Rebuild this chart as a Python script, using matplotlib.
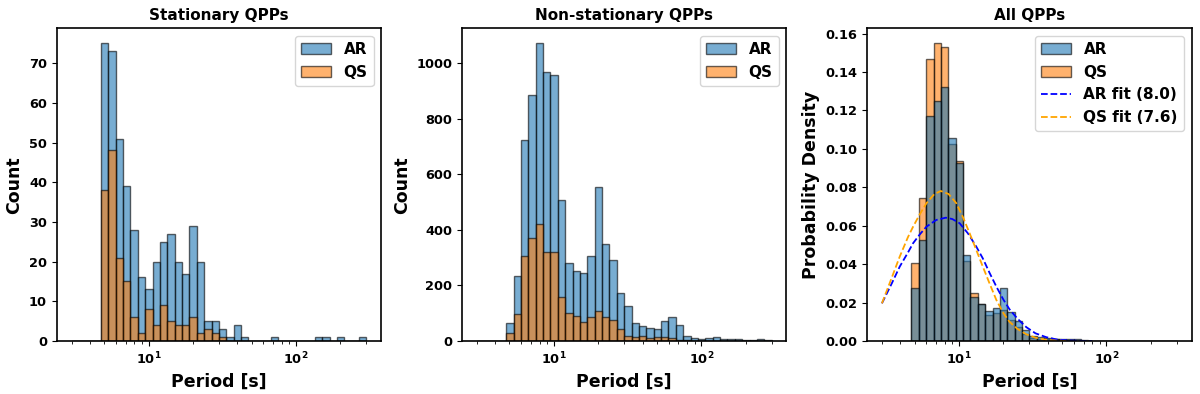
import matplotlib
matplotlib.use('Agg')
import matplotlib.pyplot as plt
import numpy as np

plt.rcParams['font.family'] = ['DejaVu Sans']
plt.rcParams['font.weight'] = 'bold'
plt.rcParams['axes.labelweight'] = 'bold'
plt.rcParams['axes.titleweight'] = 'bold'
plt.rcParams['mathtext.default'] = 'bf'

# log bins 3 s .. 300 s, 40 bins
bin_edges = np.logspace(np.log10(3), np.log10(300), 41)
bin_centers = np.sqrt(bin_edges[:-1] * bin_edges[1:])

# stationary QPPs, counts per bin
stat_ar = [0, 0, 0, 0,
           75, 73, 51, 39, 28, 16, 13, 20, 25, 27, 20, 17, 29, 20, 5, 5,
           3, 1, 4, 1, 0, 0, 0, 1, 0, 0, 0, 0, 0, 1, 1, 0, 1, 0, 0, 1]
stat_qs = [0, 0, 0, 0,
           38, 48, 21, 15, 6, 2, 8, 4, 9, 5, 4, 4, 6, 2, 3, 2,
           1, 0, 0, 0, 0, 0, 0, 0, 0, 0, 0, 0, 0, 0, 0, 0, 0, 0, 0, 0]

# non-stationary QPPs, counts per bin
nons_ar = [0, 0, 0, 0,
           66, 234, 724, 884, 1072, 968, 958, 508, 280, 253, 244, 306, 553, 348, 292, 172,
           125, 64, 54, 46, 42, 73, 88, 59, 18, 10, 7, 10, 13, 6, 6, 7, 2, 2, 6, 2]
nons_qs = [0, 0, 0, 0,
           30, 96, 306, 370, 421, 319, 322, 160, 102, 90, 70, 85, 109, 85, 76, 43,
           19, 13, 18, 10, 13, 13, 10, 4, 3, 1, 1, 0, 0, 0, 0, 0, 0, 0, 0, 0]

# all QPPs, probability density per bin
all_ar = [0, 0, 0, 0,
          0.0274, 0.0526, 0.117, 0.125, 0.132, 0.1056, 0.0925, 0.0448, 0.0231, 0.0191,
          0.0156, 0.0174, 0.0274, 0.0153, 0.0106, 0.0057, 0.0026, 0.002, 0.0014, 0.001,
          0.001, 0.0009, 0.0009, 0.0007, 0, 0, 0, 0, 0, 0, 0, 0, 0, 0, 0, 0]
all_qs = [0, 0, 0, 0,
          0.0405, 0.0743, 0.147, 0.155, 0.153, 0.1026, 0.0935, 0.0417, 0.0252, 0.0191,
          0.0135, 0.0144, 0.0160, 0.011, 0.0075, 0.0036, 0.0015, 0.0012, 0.001, 0.0008,
          0.0006, 0.0003, 0.0002, 0.0001, 0, 0, 0, 0, 0, 0, 0, 0, 0, 0, 0, 0]

# fitted curves
fit_p_ar = [3.0, 3.5, 3.96, 4.5, 4.88, 5.42, 6.01, 7.0, 8.13, 9.0, 10.1, 11.5, 13.1, 14.5,
            16.1, 18.0, 20.0, 22.0, 25.0, 28.6, 33.0, 39.0, 46.0, 55.0, 65.0, 80.0]
fit_ar = [0.0196, 0.030, 0.0387, 0.046, 0.0509, 0.0555, 0.0595, 0.0630, 0.0642, 0.0635,
          0.0613, 0.056, 0.0491, 0.043, 0.0355, 0.028, 0.0215, 0.0165, 0.0115, 0.0072,
          0.0040, 0.0020, 0.0008, 0.0003, 0.0001, 0.0]
fit_p_qs = [3.0, 3.5, 3.96, 4.5, 4.88, 5.42, 6.01, 6.8, 7.52, 8.5, 9.59, 10.7, 11.8, 13.0,
            14.5, 16.1, 17.9, 20.0, 22.0, 25.0, 28.6, 33.0, 39.0, 46.0, 55.0]
fit_qs = [0.0196, 0.033, 0.0439, 0.054, 0.0595, 0.066, 0.0717, 0.0765, 0.0781, 0.0765,
          0.0717, 0.064, 0.0561, 0.048, 0.0387, 0.030, 0.0214, 0.0145, 0.0100, 0.0062,
          0.0035, 0.0017, 0.0006, 0.0002, 0.0]

blue = '#1f77b4'
orange = '#ff7f0e'

fig, axes = plt.subplots(1, 3, figsize=(12, 3.94), dpi=100)
fig.subplots_adjust(left=0.0473, right=0.993, bottom=0.1345, top=0.928, wspace=0.249)

ax = axes[0]
ax.hist(bin_centers, bins=bin_edges, weights=stat_ar, color=blue, alpha=0.6, edgecolor='black', label='AR')
ax.hist(bin_centers, bins=bin_edges, weights=stat_qs, color=orange, alpha=0.6, edgecolor='black', label='QS')
ax.set_xscale('log')
ax.set_title('Stationary QPPs', fontsize=11)
ax.set_ylabel('Count', fontsize=12.5)

ax = axes[1]
ax.hist(bin_centers, bins=bin_edges, weights=nons_ar, color=blue, alpha=0.6, edgecolor='black', label='AR')
ax.hist(bin_centers, bins=bin_edges, weights=nons_qs, color=orange, alpha=0.6, edgecolor='black', label='QS')
ax.set_xscale('log')
ax.set_title('Non-stationary QPPs', fontsize=11)
ax.set_ylabel('Count', fontsize=12.5)

ax = axes[2]
ax.hist(bin_centers, bins=bin_edges, weights=all_qs, color=orange, alpha=0.6, edgecolor='black', label='QS')
ax.hist(bin_centers, bins=bin_edges, weights=all_ar, color=blue, alpha=0.6, edgecolor='black', label='AR')
ax.plot(fit_p_ar, fit_ar, '--', color='blue', lw=1.3, label='AR fit (8.0)')
ax.plot(fit_p_qs, fit_qs, '--', color='orange', lw=1.3, label='QS fit (7.6)')
ax.set_xscale('log')
ax.set_title('All QPPs', fontsize=11)
ax.set_ylabel('Probability Density', fontsize=12.5)

for ax in axes:
    ax.set_xlabel('Period [s]', fontsize=12.5)
    ax.tick_params(labelsize=9.3)
    for s in ax.spines.values():
        s.set_linewidth(1.2)
    h, l = ax.get_legend_handles_labels()
    order = [l.index(n) for n in ['AR', 'QS', 'AR fit (8.0)', 'QS fit (7.6)'] if n in l]
    ax.legend([h[i] for i in order], [l[i] for i in order], loc='upper right', fontsize=11)

fig.savefig('out.png', dpi=100)
